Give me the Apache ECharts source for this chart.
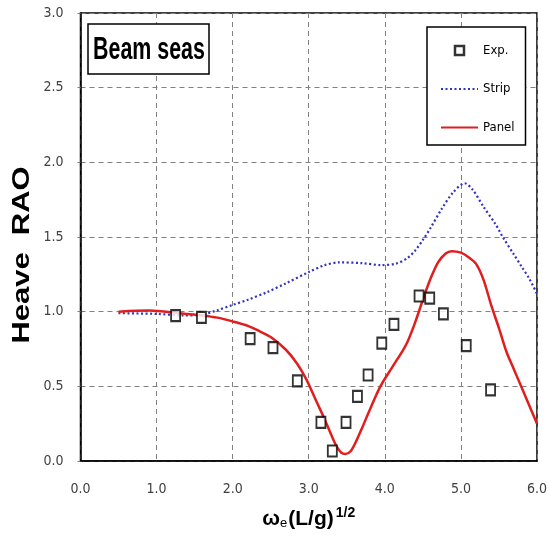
<!DOCTYPE html>
<html>
<head>
<meta charset="utf-8">
<style>
  html, body { margin: 0; padding: 0; background: #fff; }
  #chart { width: 550px; height: 541px; }
</style>
<script src="https://cdn.jsdelivr.net/npm/echarts@6/dist/echarts.min.js"></script>
</head>
<body>
<div id="chart"></div>
<script>
// Heave RAO in beam seas: experiment vs. strip theory vs. panel method
const xTickLabels = ['0.0', '1.0', '2.0', '3.0', '4.0', '5.0', '6.0'];
const yTickLabels = ['0.0', '0.5', '1.0', '1.5', '2.0', '2.5', '3.0'];

const expX = [1.25, 1.59, 2.23, 2.53, 2.85, 3.16, 3.31, 3.49, 3.64, 3.78, 3.96, 4.12, 4.45, 4.59, 4.77, 5.07, 5.39];
const expY = [0.973, 0.962, 0.819, 0.759, 0.536, 0.259, 0.067, 0.259, 0.433, 0.576, 0.790, 0.915, 1.105, 1.090, 0.985, 0.772, 0.476];

const stripX = [0.5, 1.0, 1.35, 1.6, 1.8, 2.0, 2.2, 2.45, 2.7, 3.0, 3.2, 3.4, 3.7, 3.95, 4.15, 4.3, 4.4, 4.5, 4.6, 4.75, 4.9, 5.05, 5.15, 5.3, 5.45, 5.55, 5.7, 5.8, 5.9, 6.0];
const stripY = [0.99, 0.985, 0.975, 0.98, 1.01, 1.045, 1.08, 1.13, 1.19, 1.265, 1.31, 1.33, 1.325, 1.312, 1.322, 1.36, 1.41, 1.48, 1.56, 1.69, 1.80, 1.86, 1.82, 1.70, 1.59, 1.50, 1.38, 1.30, 1.22, 1.12];

const panelX = [0.5, 0.9, 1.3, 1.6, 1.8, 2.0, 2.2, 2.35, 2.5, 2.7, 2.85, 2.97, 3.1, 3.2, 3.3, 3.37, 3.43, 3.48, 3.55, 3.63, 3.7, 3.8, 3.94, 4.1, 4.24, 4.3, 4.4, 4.5, 4.6, 4.7, 4.8, 4.88, 5.0, 5.1, 5.2, 5.3, 5.4, 5.5, 5.6, 5.7, 5.8, 5.9, 6.0];
const panelY = [1.0, 1.007, 0.99, 0.975, 0.96, 0.935, 0.905, 0.87, 0.83, 0.745, 0.65, 0.545, 0.40, 0.29, 0.17, 0.095, 0.055, 0.047, 0.065, 0.14, 0.22, 0.34, 0.498, 0.63, 0.743, 0.80, 0.93, 1.08, 1.22, 1.33, 1.39, 1.405, 1.395, 1.365, 1.32, 1.21, 1.04, 0.89, 0.73, 0.61, 0.49, 0.37, 0.25];

const zip = (xs, ys) => xs.map((x, i) => [x, ys[i]]);

const tickFont = "'Liberation Sans Narrow', 'DejaVu Sans Condensed', 'Liberation Sans', sans-serif";
const gridLine = { show: true, lineStyle: { color: '#808080', width: 1, type: [5, 4] } };
const noMarker = 'rgba(0,0,0,0)';

const chart = echarts.init(document.getElementById('chart'), null, { renderer: 'canvas' });

chart.setOption({
  backgroundColor: '#fff',
  animation: false,
  grid: {
    left: 80.5, right: 13, top: 13, bottom: 80,
    show: true, borderColor: '#000', borderWidth: 1.5, backgroundColor: 'transparent'
  },
  xAxis: {
    type: 'value', min: 0, max: 6, interval: 1,
    axisLine: { show: true, lineStyle: { color: '#000', width: 1.5 } },
    axisTick: { show: false },
    splitLine: gridLine,
    axisLabel: {
      margin: 21, fontSize: 14, color: '#404040', fontFamily: tickFont,
      formatter: (v, i) => xTickLabels[i]
    },
    name: '{w|ω}{s|e}{w|(L/g)}{p|1/2}',
    nameLocation: 'middle',
    nameGap: 45,
    nameTextStyle: {
      rich: {
        w: { fontSize: 21, fontWeight: 'bold', color: '#000', fontFamily: 'Liberation Sans', lineHeight: 24, verticalAlign: 'bottom' },
        s: { fontSize: 13, color: '#000', fontFamily: 'Liberation Sans', verticalAlign: 'bottom', lineHeight: 24, padding: [0, 1, 0, 0] },
        p: { fontSize: 14, fontWeight: 'bold', color: '#000', fontFamily: 'Liberation Sans', verticalAlign: 'top', lineHeight: 24, padding: [0, 0, 0, 2] }
      }
    }
  },
  yAxis: {
    type: 'value', min: 0, max: 3, interval: 0.5,
    axisLine: { show: true, lineStyle: { color: '#000', width: 1.5 } },
    axisTick: { show: true, length: 3, lineStyle: { color: '#808080' } },
    splitLine: gridLine,
    axisLabel: {
      margin: 17, fontSize: 14, color: '#404040', fontFamily: tickFont,
      formatter: (v, i) => yTickLabels[i]
    }
  },
  legend: {
    orient: 'vertical',
    left: 427, top: 27,
    itemWidth: 37, itemHeight: 9, itemGap: 25.5,
    padding: [17, 11, 11, 13],
    borderColor: '#000', borderWidth: 1.5,
    backgroundColor: '#fff',
    textStyle: { fontSize: 13, color: '#000', fontFamily: tickFont },
    data: [
      {
        name: 'Exp.', icon: 'path://M0,0H10V10H0Z',
        itemStyle: { color: '#fff', borderColor: '#000', borderWidth: 2.5 }
      },
      'Strip',
      'Panel'
    ]
  },
  graphic: [
    {
      type: 'rect', z: 100,
      shape: { x: 88, y: 24, width: 121, height: 50 },
      style: { fill: '#fff', stroke: '#000', lineWidth: 1.5 }
    },
    {
      type: 'text', z: 101, x: 149, y: 50, scaleX: 0.69,
      style: { text: 'Beam seas', font: 'bold 31px "Liberation Sans"', fill: '#000', align: 'center', verticalAlign: 'middle' }
    },
    {
      type: 'text', z: 101, x: 22, y: 255, rotation: Math.PI / 2, scaleX: 1.29,
      style: { text: 'Heave  RAO', font: 'bold 24px "Liberation Sans"', fill: '#000', align: 'center', verticalAlign: 'middle' }
    }
  ],
  series: [
    {
      name: 'Strip', type: 'line', data: zip(stripX, stripY),
      smooth: 0.3, symbol: 'none', z: 2,
      lineStyle: { color: '#3232c0', width: 2.2, type: [2, 2.5] },
      itemStyle: { color: noMarker }
    },
    {
      name: 'Panel', type: 'line', data: zip(panelX, panelY),
      smooth: 0.3, symbol: 'none', z: 3,
      lineStyle: { color: '#e01e1e', width: 2.5 },
      itemStyle: { color: noMarker }
    },
    {
      name: 'Exp.', type: 'scatter', data: zip(expX, expY),
      symbol: 'rect', symbolSize: [9, 11], z: 4,
      itemStyle: { color: '#fff', borderColor: '#000', borderWidth: 2 }
    }
  ]
});
</script>
</body>
</html>
